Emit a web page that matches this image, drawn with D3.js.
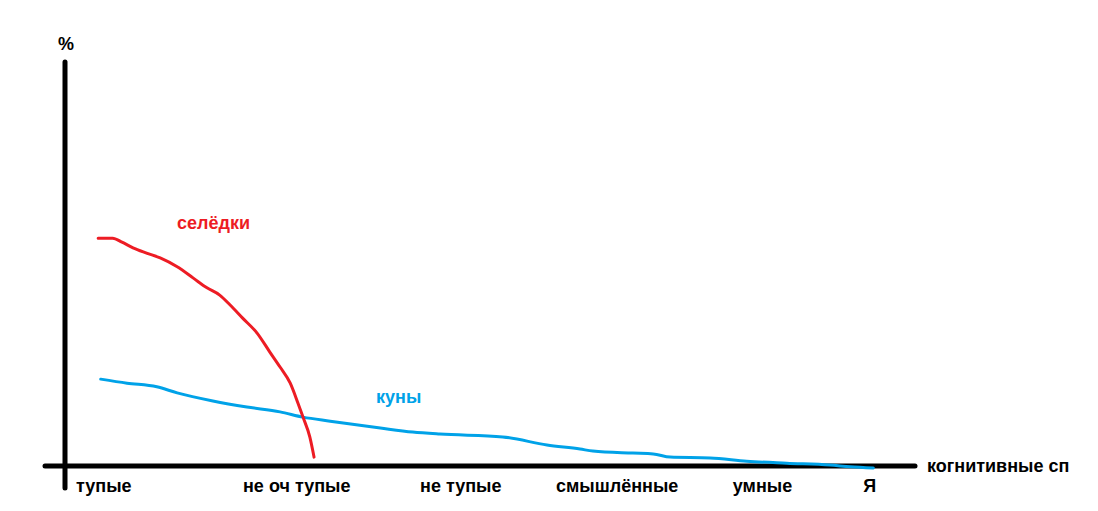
<!DOCTYPE html>
<html>
<head>
<meta charset="utf-8">
<script src="https://cdn.jsdelivr.net/npm/d3@7"></script>
<style>
body { margin: 0; background: #fff; }
svg text { font-family: Arial, "Liberation Sans", sans-serif; font-weight: bold; }
</style>
</head>
<body>
<div class="container"></div>
<script>
// categories on the x axis (position in "cognitive" units 0..100)
const categories = ["тупые", "не оч тупые", "не тупые", "смышлённые", "умные", "Я"];
const categoryPos = [4.5, 27.2, 46.5, 64.9, 82.0, 94.6];

// селёдки
const seldX = [3.9, 5.6, 6.7, 8.0, 9.6, 11.2, 13.2, 15.1, 16.7, 18.2, 19.4, 20.9, 22.6, 24.1, 25.3, 26.5, 27.4, 28.0, 28.8, 29.3];
const seldY = [56.4, 56.4, 55.4, 54.0, 52.7, 51.5, 49.3, 46.5, 44.1, 42.3, 39.9, 36.6, 32.9, 28.2, 24.5, 20.5, 15.6, 12.1, 7.2, 2.2];

// куны
const kunX = [4.2, 7.3, 10.8, 13.2, 17.4, 21.4, 25.3, 28.0, 31.2, 37.1, 40.9, 44.1, 51.5, 56.7, 60.6, 62.1, 66.8, 69.2, 71.2, 75.9, 80.2, 84.9, 90.0, 92.4, 95.1];
const kunY = [21.5, 20.5, 19.6, 18.1, 16.1, 14.6, 13.4, 12.1, 11.1, 9.4, 8.4, 7.9, 7.2, 5.2, 4.2, 3.7, 3.2, 3.0, 2.2, 2.0, 1.2, 0.7, 0.25, -0.2, -0.5];

const w = 1098;
const h = 511;
const red = "#ed1c24";
const blue = "#00a2e8";
const fs = "18px";

const xScale = d3.scaleLinear().domain([0, 100]).range([65, 915]);
const yScale = d3.scaleLinear().domain([0, 100]).range([466, 62]);

const svg = d3.select(".container")
  .append("svg")
  .attr("width", w)
  .attr("height", h);

// axes lines
svg.append("line")
  .attr("x1", xScale(0)).attr("x2", xScale(0))
  .attr("y1", yScale(100)).attr("y2", yScale(0) + 22)
  .attr("stroke", "#000").attr("stroke-width", 5).attr("stroke-linecap", "round");

svg.append("line")
  .attr("x1", xScale(0) - 20).attr("x2", xScale(100))
  .attr("y1", yScale(0)).attr("y2", yScale(0))
  .attr("stroke", "#000").attr("stroke-width", 5).attr("stroke-linecap", "round");

// category tick labels
const xAxis = d3.axisBottom(xScale)
  .tickValues(categoryPos)
  .tickFormat((d, i) => categories[i])
  .tickSize(0)
  .tickPadding(13);

const xAxisGroup = svg.append("g")
  .attr("transform", `translate(0,${yScale(0)})`)
  .call(xAxis);
xAxisGroup.select(".domain").remove();
xAxisGroup.selectAll("text")
  .style("font-size", fs)
  .style("font-family", "Arial, 'Liberation Sans', sans-serif")
  .style("font-weight", "bold")
  .attr("fill", "#000");

// axis titles
svg.append("text")
  .attr("x", xScale(0) + 1)
  .attr("y", 50)
  .attr("text-anchor", "middle")
  .style("font-size", fs)
  .text("%");

svg.append("text")
  .attr("x", xScale(100) + 12)
  .attr("y", yScale(0) + 6)
  .style("font-size", fs)
  .text("когнитивные сп");

// series
const line = d3.line()
  .x(d => xScale(d[0]))
  .y(d => yScale(d[1]))
  .curve(d3.curveMonotoneX);

svg.append("path")
  .datum(kunX.map((x, i) => [x, kunY[i]]))
  .attr("d", line)
  .attr("fill", "none")
  .attr("stroke", blue)
  .attr("stroke-width", 3)
  .attr("stroke-linecap", "round");

svg.append("path")
  .datum(seldX.map((x, i) => [x, seldY[i]]))
  .attr("d", line)
  .attr("fill", "none")
  .attr("stroke", red)
  .attr("stroke-width", 3)
  .attr("stroke-linecap", "round");

// series labels
svg.append("text")
  .attr("x", 177)
  .attr("y", 229)
  .attr("fill", red)
  .style("font-size", fs)
  .text("селёдки");

svg.append("text")
  .attr("x", 376)
  .attr("y", 403)
  .attr("fill", blue)
  .style("font-size", fs)
  .text("куны");
</script>
</body>
</html>
